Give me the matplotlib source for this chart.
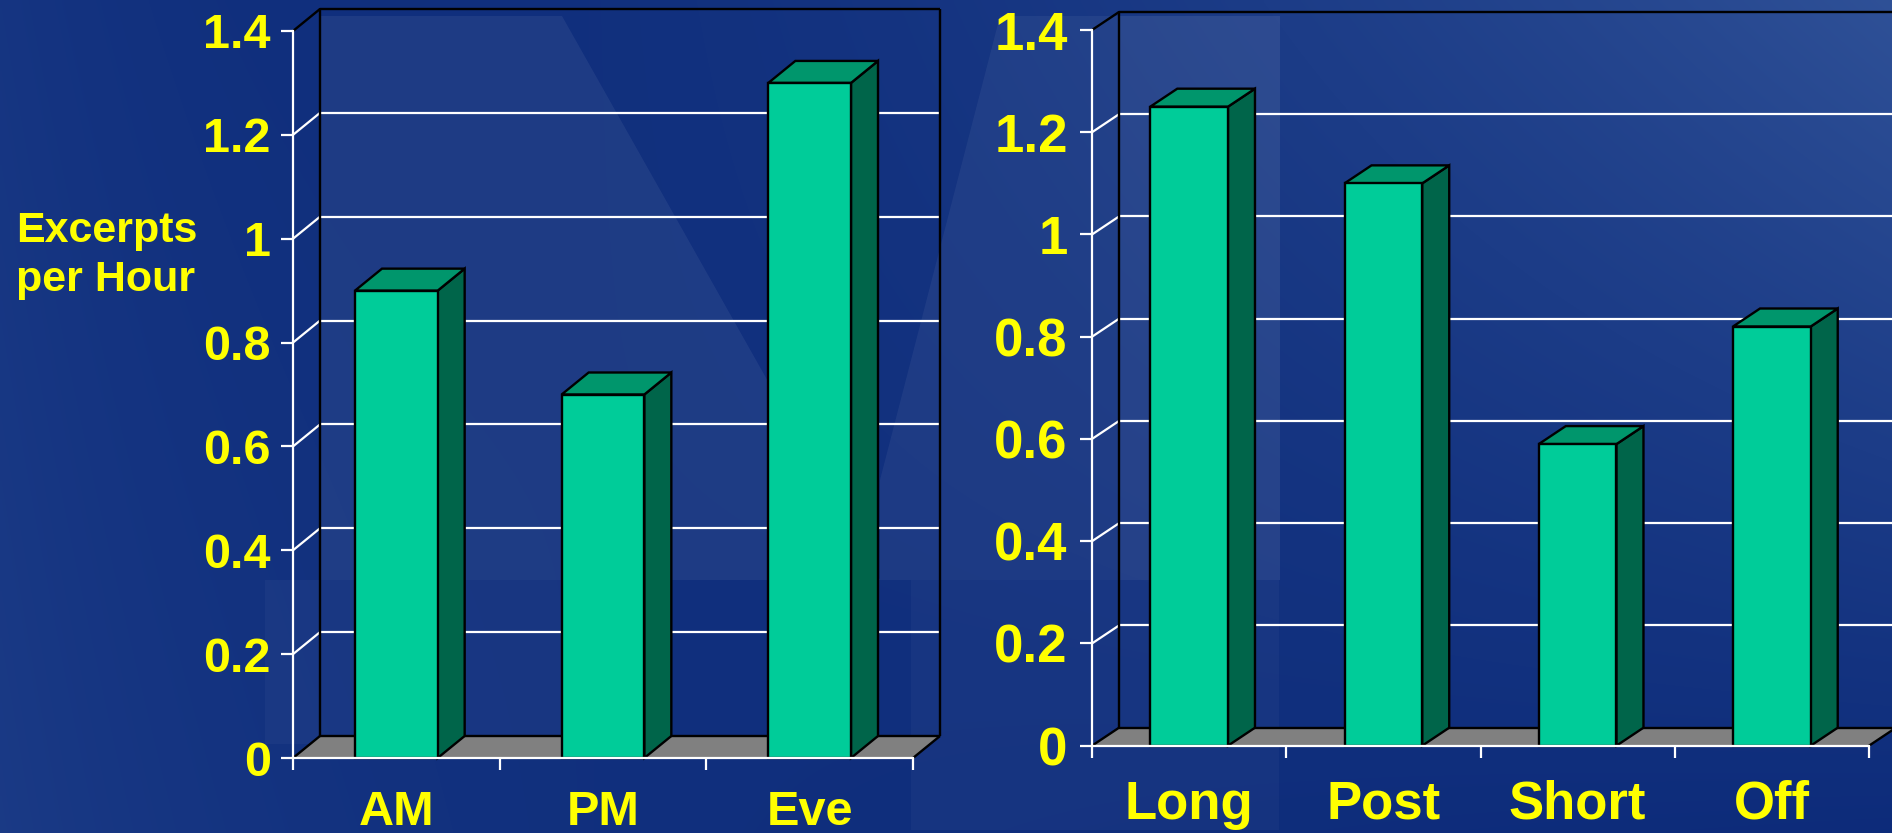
import numpy as np
import matplotlib
matplotlib.use("Agg")
import matplotlib.pyplot as plt
from matplotlib.patches import Polygon, Rectangle

# ---- data -------------------------------------------------------------
time_categories = ["AM", "PM", "Eve"]
time_rates = [0.9, 0.7, 1.3]

type_categories = ["Long", "Post", "Short", "Off"]
type_rates = [1.25, 1.1, 0.59, 0.82]

y_ticks = [0, 0.2, 0.4, 0.6, 0.8, 1.0, 1.2, 1.4]
y_tick_labels = ["0", "0.2", "0.4", "0.6", "0.8", "1", "1.2", "1.4"]
y_label_lines = ["Excerpts", "per Hour"]

# ---- style ------------------------------------------------------------
W, H, DPI = 1892, 833, 100
YELLOW = "#FFFF00"
FACE, TOP, SIDE = "#00CC99", "#00966C", "#00654A"
FLOOR = "#808080"
EDGE_LW = 1.7
GRID_LW = 1.6

plt.rcParams["font.family"] = ["Liberation Sans", "DejaVu Sans"]
plt.rcParams["font.weight"] = "bold"

fig = plt.figure(figsize=(W / DPI, H / DPI), dpi=DPI)

# ---- slide background -------------------------------------------------
bg = fig.add_axes([0, 0, 1, 1])
bg.set_axis_off()
yy, xx = np.mgrid[0:H:3, 0:W:3].astype(float)
xn, yn = xx / W, yy / H
shade = (0.22 * np.exp(-xx / 260.0) + 0.85 * xn ** 2 * (1 - yn)
         + 0.12 * yn * (1 - xn) + 0.12)
base = np.array([8, 38, 118]) / 255.0
light = np.array([48, 82, 152]) / 255.0
img = base + (light - base) * np.clip(shade, 0, 1)[..., None]
bg.imshow(img, extent=(0, W, H, 0), aspect="auto", interpolation="bilinear")
bg.set_xlim(0, W)
bg.set_ylim(H, 0)
for pts, a in [
    ([(320, 16), (562, 16), (880, 580), (320, 580)], 0.06),
    ([(880, 480), (1000, 16), (1280, 16), (1280, 580), (880, 580)], 0.05),
    ([(1120, 16), (1280, 16), (1280, 580), (1120, 580)], 0.035),
    ([(265, 580), (567, 580), (567, 744), (265, 744)], 0.03),
    ([(911, 580), (1279, 580), (1279, 830), (911, 830)], 0.03),
]:
    bg.add_patch(Polygon(pts, closed=True, fc="white", ec="none", alpha=a))


def draw_chart(frame_px, cats, vals, depth_px, tick_fs, cat_fs, tick_pad,
               cat_pad, right_edge=True):
    """3-D style column chart; frame_px = (left, right, zero_y, top_y) in pixels."""
    left, right, zero_y, top_y = frame_px
    ax = fig.add_axes([left / W, (H - zero_y) / H, (right - left) / W,
                       (zero_y - top_y) / H])
    n = len(cats)
    xmin, xmax = -0.5, n - 0.5
    ymax = y_ticks[-1]
    ax.set_xlim(xmin, xmax)
    ax.set_ylim(0, ymax)
    ax.patch.set_visible(False)

    ddx = depth_px[0] / (right - left) * (xmax - xmin)
    ddy = depth_px[1] / (zero_y - top_y) * ymax

    kw = dict(clip_on=False, solid_capstyle="butt")
    # back wall gridlines and their side-wall diagonals
    for v in y_ticks[1:-1]:
        ax.plot([xmin + ddx, xmax + ddx], [v + ddy, v + ddy], color="white",
                lw=GRID_LW, zorder=1, **kw)
        ax.plot([xmin, xmin + ddx], [v, v + ddy], color="white",
                lw=GRID_LW, zorder=1, **kw)

    # floor
    ax.add_patch(Polygon([(xmin, 0), (xmax, 0), (xmax + ddx, ddy),
                          (xmin + ddx, ddy)], closed=True, fc=FLOOR,
                         ec="none", zorder=1.2, clip_on=False))
    # wall outlines
    ax.plot([xmin + ddx, xmin + ddx, xmax + ddx], [ddy, ymax + ddy, ymax + ddy],
            color="black", lw=EDGE_LW, zorder=1.5, **kw)
    ax.plot([xmin, xmin + ddx], [ymax, ymax + ddy], color="black",
            lw=EDGE_LW, zorder=1.5, **kw)
    ax.plot([xmin + ddx, xmax + ddx], [ddy, ddy], color="black",
            lw=EDGE_LW, zorder=1.5, **kw)
    ax.plot([xmin, xmin + ddx], [0, ddy], color="black", lw=EDGE_LW,
            zorder=1.5, **kw)
    ax.plot([xmax, xmax + ddx], [0, ddy], color="black", lw=EDGE_LW,
            zorder=1.5, **kw)
    if right_edge:
        ax.plot([xmax + ddx, xmax + ddx], [ddy, ymax + ddy], color="black",
                lw=EDGE_LW, zorder=1.5, **kw)

    # columns
    w = 0.4
    for i, v in enumerate(vals):
        xl, xr = i - w / 2, i + w / 2
        pkw = dict(ec="black", lw=EDGE_LW, joinstyle="miter", clip_on=False)
        ax.add_patch(Polygon([(xr, 0), (xr + ddx, ddy), (xr + ddx, v + ddy),
                              (xr, v)], closed=True, fc=SIDE, zorder=3, **pkw))
        ax.add_patch(Polygon([(xl, v), (xr, v), (xr + ddx, v + ddy),
                              (xl + ddx, v + ddy)], closed=True, fc=TOP,
                             zorder=3, **pkw))
        ax.add_patch(Rectangle((xl, 0), w, v, fc=FACE, zorder=3.5, **pkw))

    # front axes
    for s in ("top", "right"):
        ax.spines[s].set_visible(False)
    for s in ("left", "bottom"):
        ax.spines[s].set_color("white")
        ax.spines[s].set_linewidth(GRID_LW)
        ax.spines[s].set_zorder(6)

    ax.set_yticks(y_ticks, y_tick_labels)
    ax.tick_params(axis="y", direction="out", length=8.6, width=GRID_LW,
                   color="white", labelcolor=YELLOW, labelsize=tick_fs,
                   pad=tick_pad)
    ax.set_xticks(np.arange(n + 1) - 0.5)
    ax.set_xticklabels([])
    ax.set_xticks(np.arange(n), cats, minor=True)
    ax.tick_params(axis="x", which="major", direction="out", length=8.6,
                   width=GRID_LW, color="white")
    ax.tick_params(axis="x", which="minor", length=0, labelcolor=YELLOW,
                   labelsize=cat_fs, pad=cat_pad)
    return ax


draw_chart((293, 913, 758, 31), time_categories, time_rates, (27, 22),
           tick_fs=35, cat_fs=35, tick_pad=7.4, cat_pad=23, right_edge=True)
draw_chart((1092, 1869, 745.7, 30), type_categories, type_rates, (27, 18),
           tick_fs=38, cat_fs=38, tick_pad=8.9, cat_pad=24.5, right_edge=True)

fig.text(16 / W, (H - 242.3) / H, y_label_lines[0], color=YELLOW,
         fontsize=31, ha="left", va="baseline")
fig.text(16 / W, (H - 291.5) / H, y_label_lines[1], color=YELLOW,
         fontsize=31, ha="left", va="baseline")

fig.savefig("out.png", dpi=DPI)
